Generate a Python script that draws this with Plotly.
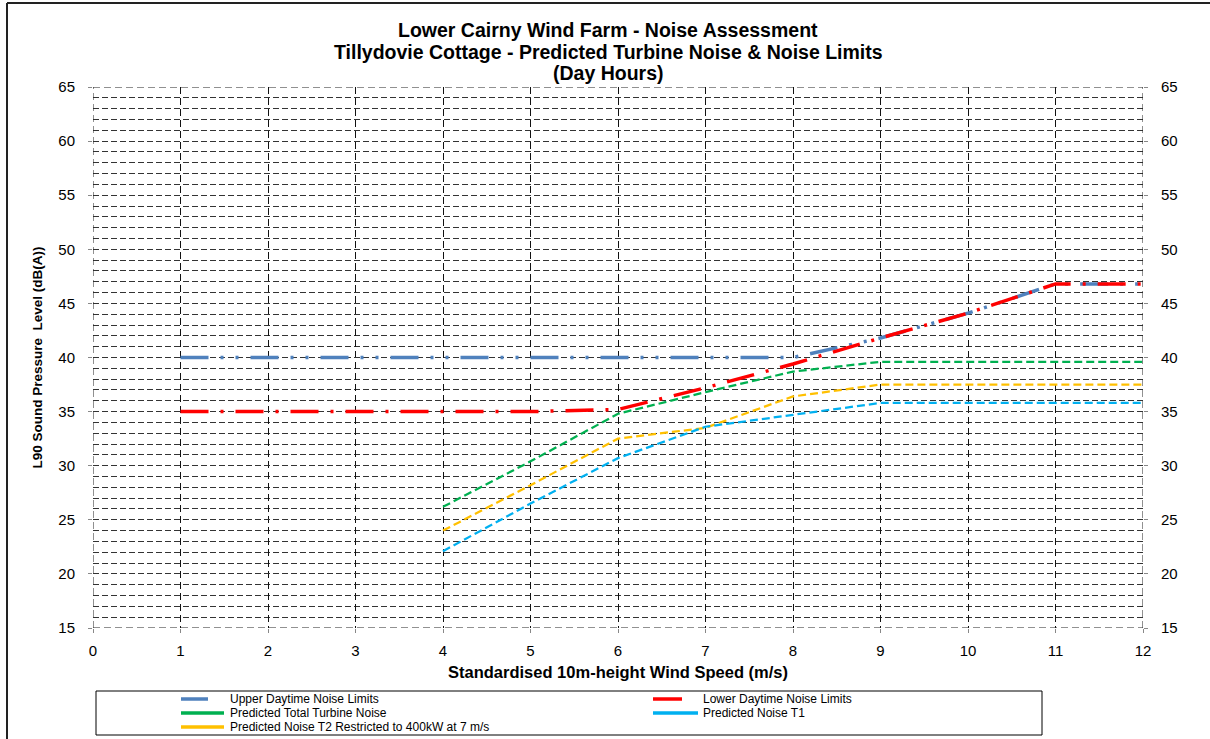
import plotly.graph_objects as go

# Wind speed bins (m/s)
wind_speed = [1, 2, 3, 4, 5, 6, 7, 8, 9, 10, 11, 12]
turbine_speed = [4, 5, 6, 7, 8, 9, 10, 11, 12]

# Noise limits, L90 dB(A)
upper_limit = [40, 40, 40, 40, 40, 40, 40, 40, 41.8, 44.1, 46.8, 46.8]
lower_limit = [35, 35, 35, 35, 35, 35.2, 37.2, 39.4, 41.8, 44.1, 46.8, 46.8]

# Predicted turbine noise, L90 dB(A)
total_noise = [26.2, 30.4, 34.8, 36.8, 38.7, 39.6, 39.6, 39.6, 39.6]
noise_t1 = [22.1, 26.5, 30.7, 33.6, 34.7, 35.8, 35.8, 35.8, 35.8]
noise_t2 = [24.0, 28.2, 32.5, 33.5, 36.4, 37.5, 37.5, 37.5, 37.5]

names = [
    "Upper Daytime Noise Limits",
    "Lower Daytime Noise Limits",
    "Predicted Total Turbine Noise",
    "Predicted Noise T1",
    "Predicted Noise T2 Restricted to 400kW at 7 m/s",
]
colors = ["#4F81BD", "#FF0000", "#00B050", "#00B0F0", "#FFC000"]

title_lines = [
    "Lower Cairny Wind Farm - Noise Assessment",
    "Tillydovie Cottage - Predicted Turbine Noise & Noise Limits",
    "(Day Hours)",
]

FONT = "Liberation Sans, Arial, sans-serif"
W, H = 1210, 739
M_L, M_R, M_T, M_B = 93, 67, 87, 111
PW, PH = W - M_L - M_R, H - M_T - M_B


def px_x(px):
    return (px - M_L) / PW


def px_y(py):
    return (H - M_B - py) / PH


fig = go.Figure()

fig.add_trace(go.Scatter(x=wind_speed, y=upper_limit, mode="lines", name=names[0],
                         line=dict(color=colors[0], width=3.5,
                                   dash="28px,12px,3px,12px,3px,12px")))
fig.add_trace(go.Scatter(x=wind_speed, y=lower_limit, mode="lines", name=names[1],
                         line=dict(color=colors[1], width=3.5,
                                   dash="28px,12px,3px,12px")))
fig.add_trace(go.Scatter(x=turbine_speed, y=total_noise, mode="lines", name=names[2],
                         line=dict(color=colors[2], width=2.25, dash="8px,4px")))
fig.add_trace(go.Scatter(x=turbine_speed, y=noise_t2, mode="lines", name=names[4],
                         line=dict(color=colors[4], width=2.25, dash="8px,4px")))
fig.add_trace(go.Scatter(x=turbine_speed, y=noise_t1, mode="lines", name=names[3],
                         line=dict(color=colors[3], width=2.25, dash="8px,4px")))

fig.update_layout(
    width=W, height=H,
    margin=dict(l=M_L, r=M_R, t=M_T, b=M_B),
    paper_bgcolor="white", plot_bgcolor="white",
    showlegend=False,
    font=dict(family=FONT, color="black"),
    xaxis=dict(
        range=[0, 12], dtick=1, tick0=0, showgrid=True, zeroline=False,
        showline=False, ticks="outside", ticklen=4, tickcolor="#888888",
        tickfont=dict(size=15), ticklabelstandoff=5,
        title=dict(text="Standardised 10m-height Wind Speed (m/s)",
                   font=dict(size=16.5, weight="bold"), standoff=8),
        gridcolor="#111111", griddash="7px,4px", gridwidth=1,
    ),
    yaxis=dict(
        range=[15, 65], dtick=5, tick0=15, showgrid=True, zeroline=False,
        showline=False, ticks="outside", ticklen=4, tickcolor="#888888",
        tickfont=dict(size=15), ticklabelstandoff=10,
        minor=dict(dtick=1, showgrid=True, gridcolor="#333333", griddash="6px,3px"),
        title=dict(text="L90 Sound Pressure\u00a0 Level (dB(A))",
                   font=dict(size=13.5, weight="bold"), standoff=12),
        gridcolor="#333333", gridwidth=1, griddash="6px,3px",
    ),
    yaxis2=dict(
        range=[15, 65], dtick=5, tick0=15, overlaying="y", side="right",
        showgrid=False, zeroline=False, showline=False,
        ticks="outside", ticklen=4, tickcolor="#888888",
        tickfont=dict(size=15), ticklabelstandoff=10,
    ),
)

# Three-line chart title
for text, ty in zip(title_lines, [30, 52, 73]):
    fig.add_annotation(text=text, xref="paper", yref="paper",
                       x=px_x(W / 2 + 3), y=px_y(ty), xanchor="center", yanchor="middle",
                       showarrow=False,
                       font=dict(family=FONT, size=19.5, color="black", weight="bold"))

# Dashed plot-area edges at the ends of both axes
edge = dict(color="#222222", width=1, dash="7px,4px")
fig.add_shape(type="line", xref="x", yref="paper", x0=0, x1=0, y0=0, y1=1, line=edge)
fig.add_shape(type="line", xref="x", yref="paper", x0=12, x1=12, y0=0, y1=1, line=edge)
fig.add_shape(type="line", xref="paper", yref="y", x0=0, x1=1, y0=15, y1=15, line=edge)
fig.add_shape(type="line", xref="paper", yref="y", x0=0, x1=1, y0=65, y1=65, line=edge)

# Outer chart frame (top and left edges)
frame = dict(color="#222222", width=2)
fig.add_shape(type="line", xref="paper", yref="paper",
              x0=px_x(7), x1=px_x(W + 20), y0=px_y(3), y1=px_y(3), line=frame)
fig.add_shape(type="line", xref="paper", yref="paper",
              x0=px_x(7), x1=px_x(7), y0=px_y(3), y1=px_y(H + 20), line=frame)

# Legend box with two columns of entries
fig.add_shape(type="rect", xref="paper", yref="paper",
              x0=px_x(96), x1=px_x(1042), y0=px_y(735), y1=px_y(691),
              line=dict(color="black", width=1), fillcolor="white")

legend_rows = [699, 713, 727]
entries = [
    (0, 181, 208, 228, legend_rows[0]),
    (1, 653, 682, 701, legend_rows[0]),
    (2, 181, 224, 228, legend_rows[1]),
    (3, 653, 698, 701, legend_rows[1]),
    (4, 181, 224, 228, legend_rows[2]),
]
for idx, lx0, lx1, tx, ry in entries:
    fig.add_shape(type="line", xref="paper", yref="paper",
                  x0=px_x(lx0), x1=px_x(lx1), y0=px_y(ry), y1=px_y(ry),
                  line=dict(color=colors[idx], width=3.5))
    fig.add_annotation(text=names[idx], xref="paper", yref="paper",
                       x=px_x(tx), y=px_y(ry), xanchor="left", yanchor="middle",
                       showarrow=False, font=dict(family=FONT, size=12, color="black"))

# Right-hand axis carries the same scale as the left one
fig.add_trace(go.Scatter(x=[None], y=[None], yaxis="y2", showlegend=False,
                         hoverinfo="skip"))

fig.write_html("out.html")
